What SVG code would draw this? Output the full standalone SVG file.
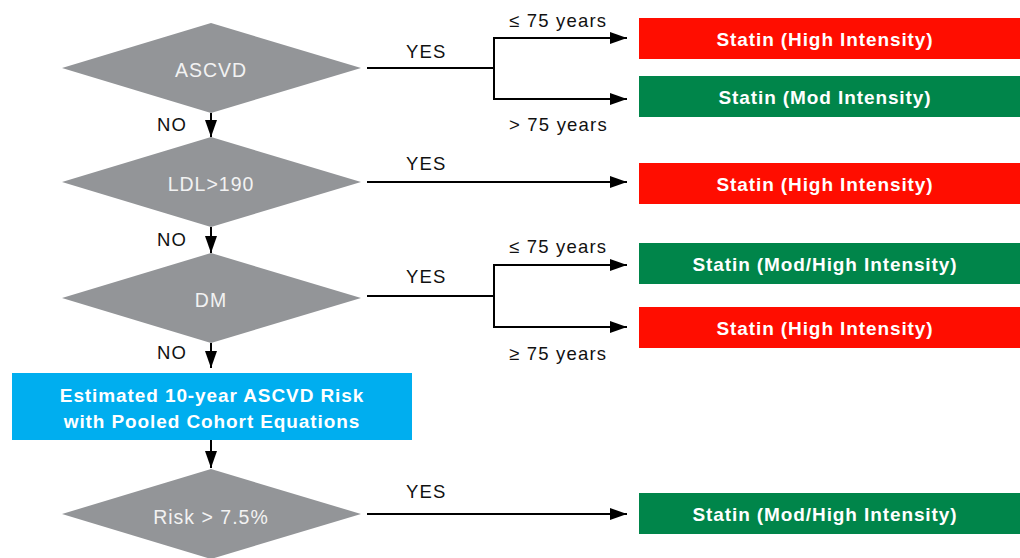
<svg xmlns="http://www.w3.org/2000/svg" width="1020" height="558" viewBox="0 0 1020 558">
<style>
.dia{fill:#939598}
.dt{font-family:"Liberation Sans",Arial,sans-serif;font-size:19.5px;fill:#f2f2f2;text-anchor:middle;letter-spacing:1px}
.lbl{font-family:"Liberation Sans",Arial,sans-serif;font-size:18.5px;fill:#111;letter-spacing:1.2px}
.bt{font-family:"Liberation Sans",Arial,sans-serif;font-size:19px;font-weight:bold;fill:#fff;text-anchor:middle;letter-spacing:0.9px}
.red{fill:#ff0d00}
.grn{fill:#00854a}
.blu{fill:#00aeef}
.ln{stroke:#000;stroke-width:2;fill:none}
.ar{marker-end:url(#ah)}
</style>
<defs>
<marker id="ah" markerUnits="userSpaceOnUse" markerWidth="17" markerHeight="12" refX="17" refY="6" orient="auto">
<path d="M0,0 L17,6 L0,12 Z" fill="#000"/>
</marker>
</defs>
<rect width="1020" height="558" fill="#fff"/>
<g id="connectors">
<path class="ln" d="M367,68 H494"/>
<path class="ln ar" d="M494,68 V38 H627"/>
<path class="ln ar" d="M494,68 V99 H627"/>
<path class="ln ar" d="M367,182 H627"/>
<path class="ln" d="M367,296 H494"/>
<path class="ln ar" d="M494,296 V265 H627"/>
<path class="ln ar" d="M494,296 V327 H627"/>
<path class="ln ar" d="M367,514 H627"/>
<path class="ln ar" d="M211,113 V137"/>
<path class="ln ar" d="M211,227 V253"/>
<path class="ln ar" d="M211,343 V368"/>
<path class="ln ar" d="M211,440 V468"/>
<text class="lbl" x="406" y="58">YES</text>
<text class="lbl" x="406" y="170">YES</text>
<text class="lbl" x="406" y="283">YES</text>
<text class="lbl" x="406" y="498">YES</text>
<text class="lbl" x="157" y="131">NO</text>
<text class="lbl" x="157" y="246">NO</text>
<text class="lbl" x="157" y="359">NO</text>
<text class="lbl" x="509" y="27">≤ 75 years</text>
<text class="lbl" x="509" y="131">&gt; 75 years</text>
<text class="lbl" x="509" y="253">≤ 75 years</text>
<text class="lbl" x="509" y="360">≥ 75 years</text>
</g>
<g id="ascvd">
<polygon class="dia" points="62,68 211,23 361,68 211,113"/>
<text class="dt" x="211" y="77">ASCVD</text>
</g>
<g id="ldl">
<polygon class="dia" points="62,182 211,137 361,182 211,227"/>
<text class="dt" x="211" y="191">LDL&gt;190</text>
</g>
<g id="dm">
<polygon class="dia" points="62,298 211,253 361,298 211,343"/>
<text class="dt" x="211" y="307">DM</text>
</g>
<g id="estimate">
<rect class="blu" x="12" y="373" width="400" height="67"/>
<text class="bt" x="212" y="402">Estimated 10-year ASCVD Risk</text>
<text class="bt" x="212" y="428">with Pooled Cohort Equations</text>
</g>
<g id="risk">
<polygon class="dia" points="62,514 211,469 361,514 211,559"/>
<text class="dt" x="211" y="524">Risk &gt; 7.5%</text>
</g>
<g id="statin1">
<rect class="red" x="639" y="18" width="381" height="41"/>
<text class="bt" x="825" y="46">Statin (High Intensity)</text>
</g>
<g id="statin2">
<rect class="grn" x="639" y="76" width="381" height="41"/>
<text class="bt" x="825" y="104">Statin (Mod Intensity)</text>
</g>
<g id="statin3">
<rect class="red" x="639" y="163" width="381" height="41"/>
<text class="bt" x="825" y="191">Statin (High Intensity)</text>
</g>
<g id="statin4">
<rect class="grn" x="639" y="243" width="381" height="41"/>
<text class="bt" x="825" y="271">Statin (Mod/High Intensity)</text>
</g>
<g id="statin5">
<rect class="red" x="639" y="307" width="381" height="41"/>
<text class="bt" x="825" y="335">Statin (High Intensity)</text>
</g>
<g id="statin6">
<rect class="grn" x="639" y="493" width="381" height="41"/>
<text class="bt" x="825" y="521">Statin (Mod/High Intensity)</text>
</g>
</svg>
